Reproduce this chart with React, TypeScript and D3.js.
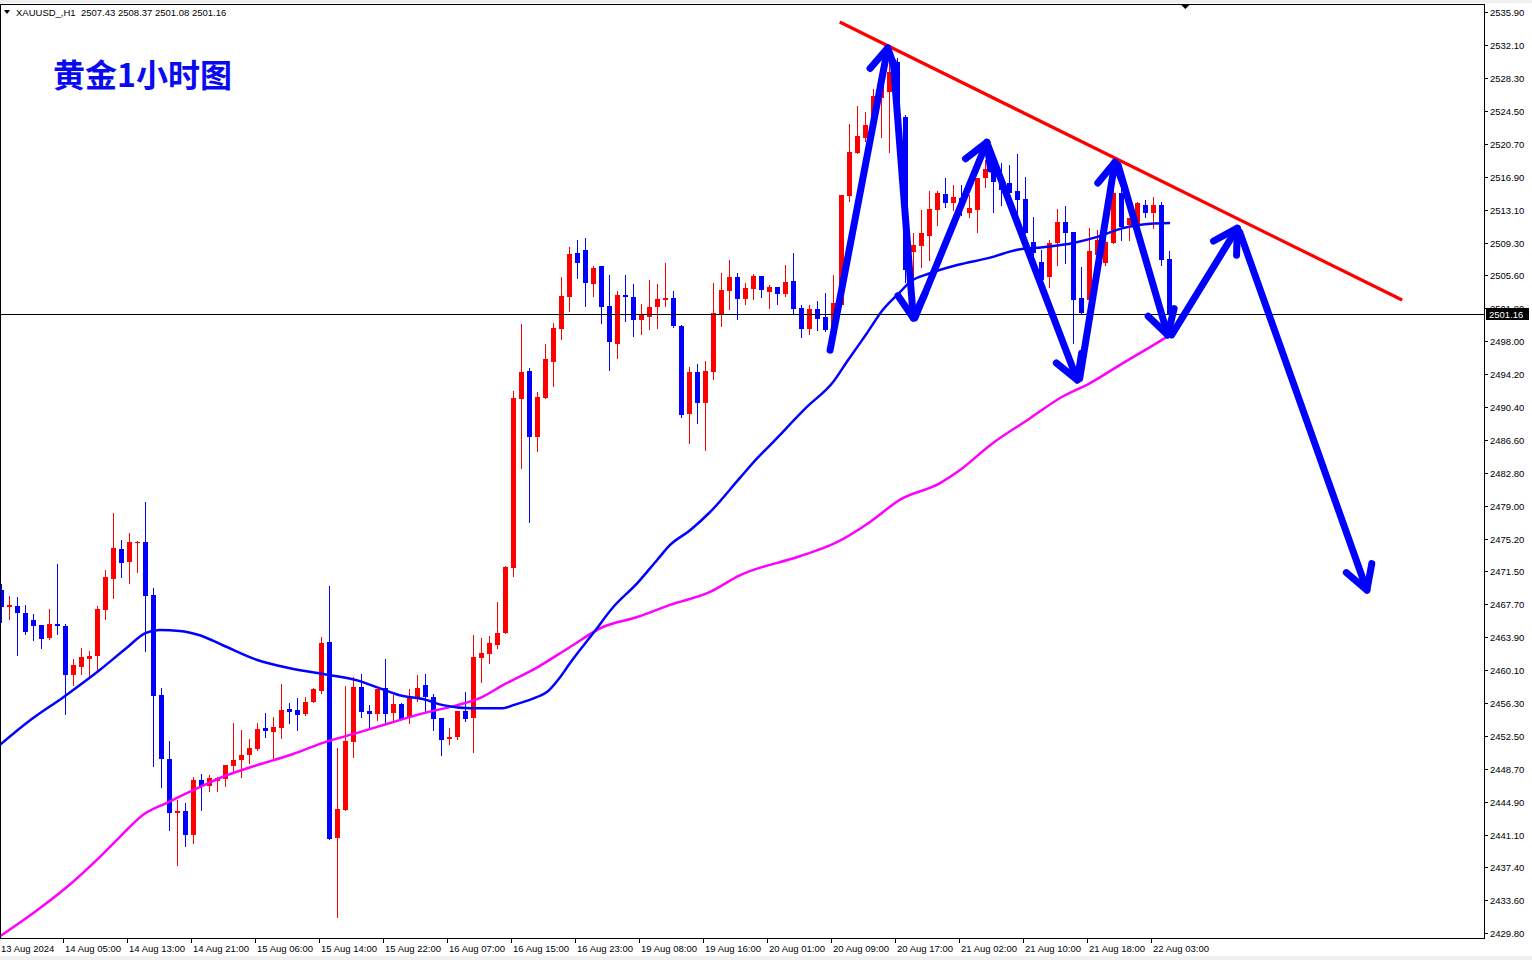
import React from 'react';
import * as d3 from 'd3';

const W = 1532;
const H = 960;

// ---- OHLC data (XAUUSD H1), bar 0 = 13 Aug 21:00 ----
const opens = [
  2469.3, 2467.35, 2467.5, 2466.7, 2465.85, 2465.3, 2463.8, 2465.4, 2465.2, 2459.5,
  2460.4, 2461.4, 2461.7, 2467.0, 2470.6, 2474.0, 2472.5, 2474.7, 2474.85, 2468.7,
  2457.2, 2449.85, 2443.6, 2443.85, 2441.1, 2447.4, 2446.7, 2447.3, 2447.5, 2449.0,
  2449.7, 2450.3, 2451.0, 2453.4, 2452.95, 2453.4, 2455.6, 2455.5, 2455.0, 2456.4,
  2457.7, 2463.3, 2440.75, 2444.0, 2451.8, 2458.1, 2455.4, 2455.0, 2458.0, 2455.1,
  2456.2, 2454.7, 2457.0, 2458.4, 2457.0, 2454.55, 2452.15, 2452.4, 2455.4, 2454.55,
  2461.5, 2461.9, 2463.0, 2464.35, 2471.8, 2491.3, 2494.5, 2486.9, 2491.4, 2495.6,
  2499.4, 2503.1, 2508.1, 2508.5, 2504.55, 2506.6, 2502.0, 2497.65, 2503.3, 2503.1,
  2500.4, 2500.75, 2501.9, 2502.7, 2502.95, 2499.7, 2489.6, 2494.4, 2490.85, 2494.4,
  2501.0, 2503.75, 2505.4, 2502.8, 2504.0, 2505.5, 2503.65, 2504.2, 2503.4, 2504.9,
  2501.8, 2499.4, 2501.7, 2500.75, 2499.6, 2502.15, 2514.7, 2519.65, 2521.4, 2522.65,
  2526.0, 2526.7, 2530.1, 2523.8, 2508.25, 2508.9, 2510.1, 2513.1, 2514.9, 2513.9,
  2514.5, 2512.75, 2513.1, 2516.8, 2518.3, 2516.55, 2516.2, 2515.3, 2514.35, 2509.4,
  2507.1, 2505.4, 2509.3, 2511.7, 2510.55, 2502.95, 2502.7, 2507.9, 2507.0, 2509.3,
  2515.05, 2511.35, 2511.35, 2513.65, 2512.75, 2513.65, 2507.43,
];
const highs = [
  2470.0, 2468.6, 2468.5, 2467.6, 2466.5, 2465.3, 2467.1, 2472.3, 2465.4, 2461.4,
  2462.6, 2462.3, 2467.5, 2471.6, 2478.2, 2475.1, 2475.9, 2474.95, 2479.45, 2469.5,
  2458.0, 2451.9, 2445.1, 2444.8, 2447.8, 2448.1, 2448.0, 2447.8, 2449.15, 2454.0,
  2453.2, 2452.15, 2454.0, 2455.1, 2454.7, 2458.5, 2456.3, 2456.9, 2457.0, 2458.0,
  2463.9, 2469.8, 2451.1, 2458.25, 2459.3, 2459.6, 2456.1, 2457.9, 2461.4, 2457.2,
  2456.3, 2457.9, 2459.5, 2459.6, 2457.3, 2454.55, 2453.4, 2455.4, 2457.55, 2464.1,
  2463.8, 2464.0, 2467.9, 2472.1, 2492.2, 2499.95, 2494.9, 2492.1, 2497.65, 2500.1,
  2505.4, 2508.8, 2509.6, 2509.9, 2506.6, 2506.6, 2505.6, 2503.75, 2505.6, 2504.55,
  2502.25, 2505.0, 2504.55, 2507.0, 2503.75, 2499.85, 2495.0, 2495.35, 2495.7, 2504.7,
  2505.8, 2507.3, 2505.8, 2504.7, 2505.7, 2505.5, 2504.45, 2504.2, 2506.75, 2508.1,
  2502.15, 2502.15, 2502.6, 2503.5, 2505.6, 2514.8, 2523.0, 2525.1, 2524.4, 2527.0,
  2528.9, 2530.4, 2530.6, 2524.0, 2510.45, 2513.1, 2515.3, 2515.3, 2516.8, 2516.0,
  2516.0, 2514.8, 2516.8, 2518.85, 2519.65, 2518.5, 2518.3, 2519.55, 2516.9, 2512.3,
  2508.5, 2509.6, 2513.2, 2513.55, 2510.55, 2506.5, 2511.0, 2510.8, 2510.8, 2516.55,
  2517.7, 2512.15, 2514.0, 2514.25, 2514.6, 2514.0, 2508.37,
];
const lows = [
  2465.6, 2466.0, 2461.8, 2464.2, 2463.55, 2462.6, 2463.7, 2464.2, 2455.0, 2458.4,
  2459.6, 2459.2, 2460.1, 2466.0, 2468.4, 2470.8, 2470.1, 2471.4, 2462.3, 2449.0,
  2446.6, 2441.7, 2437.6, 2439.8, 2440.2, 2444.0, 2446.15, 2446.15, 2446.7, 2448.2,
  2447.8, 2449.4, 2450.9, 2452.4, 2449.95, 2452.3, 2454.0, 2453.2, 2454.9, 2456.4,
  2457.45, 2440.6, 2431.6, 2444.0, 2450.1, 2454.7, 2453.3, 2454.3, 2453.9, 2454.3,
  2454.45, 2454.0, 2456.5, 2455.4, 2453.2, 2450.3, 2451.6, 2452.15, 2454.2, 2450.6,
  2458.7, 2460.9, 2462.6, 2464.35, 2470.9, 2483.35, 2477.1, 2485.3, 2491.4, 2492.8,
  2498.2, 2501.45, 2505.25, 2502.0, 2503.2, 2500.1, 2494.65, 2496.0, 2500.3, 2498.6,
  2498.8, 2499.4, 2499.5, 2502.0, 2499.6, 2489.25, 2486.25, 2488.55, 2485.45, 2493.6,
  2499.7, 2501.7, 2500.5, 2502.25, 2502.8, 2503.05, 2501.8, 2502.25, 2503.2, 2501.2,
  2498.45, 2498.8, 2499.25, 2499.15, 2499.25, 2502.15, 2514.1, 2519.65, 2521.0, 2521.5,
  2521.5, 2519.8, 2520.0, 2504.8, 2505.4, 2506.5, 2507.3, 2511.35, 2513.45, 2513.1,
  2512.5, 2512.3, 2510.55, 2515.7, 2512.85, 2513.65, 2514.25, 2511.35, 2510.45, 2507.0,
  2505.0, 2504.2, 2506.75, 2507.0, 2497.8, 2501.2, 2502.7, 2506.2, 2506.75, 2509.3,
  2509.6, 2509.6, 2510.8, 2512.3, 2511.0, 2506.75, 2501.08,
];
const closes = [
  2467.35, 2467.6, 2466.7, 2464.5, 2465.2, 2463.7, 2465.4, 2465.2, 2459.5, 2460.7,
  2461.6, 2461.7, 2467.1, 2470.8, 2474.15, 2472.4, 2474.85, 2474.85, 2468.6, 2457.1,
  2449.85, 2443.6, 2443.85, 2441.1, 2447.4, 2446.7, 2447.65, 2447.65, 2449.15, 2449.7,
  2450.3, 2451.1, 2453.3, 2453.1, 2453.5, 2455.5, 2455.25, 2454.9, 2456.4, 2457.9,
  2463.2, 2440.6, 2444.1, 2451.9, 2458.1, 2455.25, 2455.0, 2457.9, 2455.0, 2456.2,
  2454.45, 2456.9, 2458.0, 2457.0, 2454.45, 2452.0, 2452.4, 2455.4, 2454.45, 2461.6,
  2462.05, 2463.2, 2464.35, 2471.95, 2491.4, 2494.4, 2486.9, 2491.5, 2495.9, 2499.5,
  2503.2, 2508.0, 2507.0, 2504.7, 2506.4, 2501.9, 2497.9, 2503.3, 2503.1, 2500.4,
  2501.0, 2501.9, 2502.8, 2502.95, 2499.7, 2489.5, 2494.4, 2490.85, 2494.5, 2501.2,
  2503.9, 2505.4, 2502.8, 2504.1, 2505.5, 2503.9, 2504.2, 2503.4, 2504.8, 2501.7,
  2499.4, 2501.7, 2500.5, 2499.25, 2502.4, 2514.8, 2519.8, 2521.6, 2522.9, 2526.2,
  2527.5, 2529.0, 2523.7, 2506.2, 2509.05, 2510.45, 2513.2, 2515.05, 2513.9, 2514.6,
  2513.55, 2513.3, 2516.8, 2517.8, 2516.3, 2515.4, 2515.05, 2514.25, 2510.45, 2508.1,
  2505.0, 2509.3, 2511.7, 2510.45, 2502.7, 2501.2, 2508.35, 2509.6, 2509.4, 2515.05,
  2511.1, 2512.15, 2513.9, 2512.75, 2513.65, 2507.3, 2501.16,
];

// ---- Moving averages (bar index, price) ----
const maFastIdx = [-0.2, 3.6, 7.8, 12.3, 15.8, 18.0, 19.8, 22.3, 24.8, 27.7, 32.0, 36.1, 41.1, 44.5, 47.0, 50.2, 52.7, 55.2, 58.6, 62.7, 64.0, 67.0, 68.2, 69.8, 71.1, 74.0, 76.5, 79.5, 82.0, 83.6, 86.1, 88.6, 92.3, 94.5, 96.1, 100.7, 104.0, 105.7, 108.2, 110.2, 112.3, 113.6, 116.1, 119.5, 123.6, 127.0, 130.2, 134.0, 137.0, 140.2, 143.6, 146.1];
const maFastVal = [2451.45, 2454.3, 2457.0, 2460.1, 2462.75, 2464.35, 2464.7, 2464.6, 2464.1, 2462.95, 2461.25, 2460.3, 2459.5, 2458.9, 2458.1, 2457.1, 2456.75, 2456.05, 2455.7, 2455.7, 2456.05, 2457.0, 2457.55, 2459.2, 2460.9, 2464.35, 2467.35, 2470.1, 2472.8, 2474.5, 2476.2, 2478.3, 2482.2, 2484.5, 2486.0, 2490.4, 2493.3, 2495.6, 2498.9, 2501.6, 2503.6, 2504.8, 2505.8, 2506.75, 2507.6, 2508.5, 2508.8, 2509.3, 2510.0, 2511.0, 2511.5, 2511.6];
const maSlowIdx = [-0.2, 4.0, 8.2, 12.3, 14.8, 17.7, 20.7, 24.8, 27.7, 32.0, 36.1, 40.2, 44.5, 48.6, 52.7, 57.0, 59.8, 62.7, 67.0, 71.1, 75.2, 79.5, 83.6, 88.6, 92.3, 99.8, 104.2, 108.6, 112.3, 117.3, 119.8, 123.6, 128.6, 132.3, 136.1, 140.2, 143.6, 146.1];
const maSlowVal = [2429.4, 2432.1, 2435.1, 2438.55, 2440.85, 2443.4, 2444.8, 2446.6, 2447.8, 2449.15, 2450.3, 2451.7, 2452.85, 2454.0, 2455.1, 2456.05, 2456.85, 2458.35, 2460.4, 2462.75, 2465.05, 2466.2, 2467.6, 2469.1, 2471.0, 2473.2, 2474.7, 2477.15, 2479.7, 2481.6, 2483.1, 2486.0, 2489.1, 2491.4, 2493.15, 2495.45, 2497.3, 2498.7];

// ---- Axis labels ----
const xLabels = [
  '13 Aug 2024', '14 Aug 05:00', '14 Aug 13:00', '14 Aug 21:00', '15 Aug 06:00',
  '15 Aug 14:00', '15 Aug 22:00', '16 Aug 07:00', '16 Aug 15:00', '16 Aug 23:00',
  '19 Aug 08:00', '19 Aug 16:00', '20 Aug 01:00', '20 Aug 09:00', '20 Aug 17:00',
  '21 Aug 02:00', '21 Aug 10:00', '21 Aug 18:00', '22 Aug 03:00',
];
const yLabels = [
  '2535.90', '2532.10', '2528.30', '2524.50', '2520.70', '2516.90', '2513.10', '2509.30',
  '2505.60', '2501.80', '2498.00', '2494.20', '2490.40', '2486.60', '2482.80', '2479.00',
  '2475.20', '2471.50', '2467.70', '2463.90', '2460.10', '2456.30', '2452.50', '2448.70',
  '2444.90', '2441.10', '2437.40', '2433.60', '2429.80',
];
const bid = 2501.16;
const headerText = 'XAUUSD_,H1  2507.43 2508.37 2501.08 2501.16';
const title = '黄金1小时图';

// ---- Drawn objects (bar index, price) ----
const trendStart = [104.8, 2534.75];
const trendEnd = [175.1, 2502.72];
const arrowFrom = [
  [103.6, 2496.95], [111.5, 2530.1], [114.2, 2500.65], [123.3, 2520.6],
  [134.8, 2493.7], [139.6, 2518.27], [146.3, 2498.7], [154.8, 2510.55],
];
const arrowTo = [
  [110.8, 2531.75], [114.0, 2500.65], [123.2, 2520.9], [134.5, 2493.5],
  [139.2, 2518.6], [145.8, 2498.7], [154.5, 2511.0], [170.7, 2469.3],
];

const UP = '#ff0000';
const DOWN = '#0000ff';
const AXIS_FONT = '"Liberation Sans", Arial, sans-serif';

export default function App() {
  const plotRight = 1484;
  const plotTop = 4;
  const plotBottom = 938;
  const x = d3.scaleLinear().domain([0, 185]).range([1.3, 1481.3]);
  const y = d3.scaleLinear().domain([2429.8, 2535.9]).range([933, 12]);

  const n = Math.min(opens.length, highs.length, lows.length, closes.length);
  const candles = d3.range(n).map((i) => ({ i, o: opens[i], h: highs[i], l: lows[i], c: closes[i] }));

  const line = d3
    .line<[number, number]>()
    .x((d) => x(d[0]))
    .y((d) => y(d[1]))
    .curve(d3.curveMonotoneX);

  const fastPts = maFastIdx.map((v, k) => [v, maFastVal[k]] as [number, number]);
  const slowPts = maSlowIdx.map((v, k) => [v, maSlowVal[k]] as [number, number]);

  const arrows = arrowFrom.map((f, k) => {
    const t = arrowTo[k];
    const x0 = x(f[0]), y0 = y(f[1]), x1 = x(t[0]), y1 = y(t[1]);
    const ang = Math.atan2(y1 - y0, x1 - x0);
    const L = 27;
    const th = (30 * Math.PI) / 180;
    const w1 = [x1 - L * Math.cos(ang - th), y1 - L * Math.sin(ang - th)];
    const w2 = [x1 - L * Math.cos(ang + th), y1 - L * Math.sin(ang + th)];
    return { x0, y0, x1, y1, w1, w2 };
  });

  const bidY = Math.round(y(bid)) + 0.5;

  return (
    <svg
      width={W}
      height={H}
      style={{ position: 'absolute', left: 0, top: 0, display: 'block', background: '#ffffff' }}
    >
      <defs>
        <clipPath id="aboveBid">
          <rect x={plotRight} y={0} width={W - plotRight} height={bidY - 6.5} />
        </clipPath>
      </defs>
      <rect x={0} y={0} width={W} height={H} fill="#ffffff" />
      <rect x={0} y={0} width={W} height={3} fill="#f0f0f0" />
      <rect x={0} y={956} width={W} height={4} fill="#f0f0f0" />

      {/* candles */}
      <g shapeRendering="crispEdges">
        {candles.map((d) => {
          const cx = Math.round(x(d.i));
          const up = d.c >= d.o;
          const col = up ? UP : DOWN;
          const top = Math.round(y(Math.max(d.o, d.c)));
          const bot = Math.round(y(Math.min(d.o, d.c)));
          return (
            <g key={d.i}>
              <line x1={cx + 0.5} x2={cx + 0.5} y1={Math.round(y(d.h))} y2={Math.round(y(d.l)) + 1} stroke={col} strokeWidth={1} />
              <rect x={cx - 2} y={top} width={5} height={Math.max(1, bot - top)} fill={col} />
            </g>
          );
        })}
      </g>

      {/* moving averages */}
      <path d={line(slowPts) || ''} fill="none" stroke="#ff00ff" strokeWidth={2.5} />
      <path d={line(fastPts) || ''} fill="none" stroke="#0000ff" strokeWidth={2.5} />

      {/* bid line */}
      <line x1={0} x2={plotRight} y1={bidY} y2={bidY} stroke="#000" strokeWidth={1} shapeRendering="crispEdges" />

      {/* trend line */}
      <line
        x1={x(trendStart[0])}
        y1={y(trendStart[1])}
        x2={x(trendEnd[0])}
        y2={y(trendEnd[1])}
        stroke="#ff0000"
        strokeWidth={3.2}
      />

      {/* arrows */}
      <g fill="none" stroke="#0000ff" strokeWidth={7} strokeLinecap="round" strokeLinejoin="round">
        {arrows.map((a, k) => (
          <g key={k}>
            <line x1={a.x0} y1={a.y0} x2={a.x1} y2={a.y1} />
            <polyline points={`${a.w1[0]},${a.w1[1]} ${a.x1},${a.y1} ${a.w2[0]},${a.w2[1]}`} />
          </g>
        ))}
      </g>

      {/* frame */}
      <g shapeRendering="crispEdges" stroke="#000" strokeWidth={1}>
        <line x1={0.5} x2={0.5} y1={plotTop} y2={plotBottom} />
        <line x1={0} x2={plotRight} y1={plotTop + 0.5} y2={plotTop + 0.5} />
        <line x1={plotRight + 0.5} x2={plotRight + 0.5} y1={plotTop} y2={plotBottom + 1} />
        <line x1={0} x2={plotRight + 1} y1={plotBottom + 0.5} y2={plotBottom + 0.5} />
      </g>

      {/* chart shift marker */}
      <path d={`M${x(148) - 5},${plotTop} L${x(148) + 5},${plotTop} L${x(148)},${plotTop + 5} Z`} fill="#000" />

      {/* y axis */}
      <g fontFamily={AXIS_FONT} fontSize={9.5} fill="#000">
        {yLabels.map((lab) => {
          const yy = Math.round(y(parseFloat(lab)));
          const hidden = Math.abs(yy - bidY) < 10;
          return (
            <g key={lab}>
              <line x1={plotRight} x2={plotRight + 4} y1={yy + 0.5} y2={yy + 0.5} stroke="#000" shapeRendering="crispEdges" />
              <text
                x={plotRight + 6}
                y={yy}
                dominantBaseline="central"
                clipPath={hidden ? 'url(#aboveBid)' : undefined}
              >
                {lab}
              </text>
            </g>
          );
        })}
      </g>

      {/* bid label */}
      <rect x={plotRight + 2} y={bidY - 6.5} width={43} height={12} fill="#000" />
      <text
        x={plotRight + 5}
        y={bidY}
        dominantBaseline="central"
        fontFamily={AXIS_FONT}
        fontSize={9.5}
        fill="#fff"
      >
        {bid.toFixed(2)}
      </text>

      {/* x axis */}
      <g fontFamily={AXIS_FONT} fontSize={9.5} fill="#000">
        {xLabels.map((lab, k) => {
          const cx = Math.round(x(k * 8));
          return (
            <g key={lab}>
              <line x1={cx - 1.5} x2={cx - 1.5} y1={plotBottom} y2={plotBottom + 5} stroke="#000" shapeRendering="crispEdges" />
              <text x={cx} y={952}>
                {lab}
              </text>
            </g>
          );
        })}
      </g>

      {/* header */}
      <path d="M4,10 L10,10 L7,14 Z" fill="#000" />
      <text x={16} y={16} fontFamily={AXIS_FONT} fontSize={9.5} fill="#000" style={{ whiteSpace: 'pre' }}>
        {headerText}
      </text>

      {/* title */}
      <text
        x={53}
        y={87}
        fontFamily='"Noto Sans CJK SC", sans-serif'
        fontWeight="bold"
        fontSize={32}
        fill="#0a0af0"
      >
        {title}
      </text>
    </svg>
  );
}
